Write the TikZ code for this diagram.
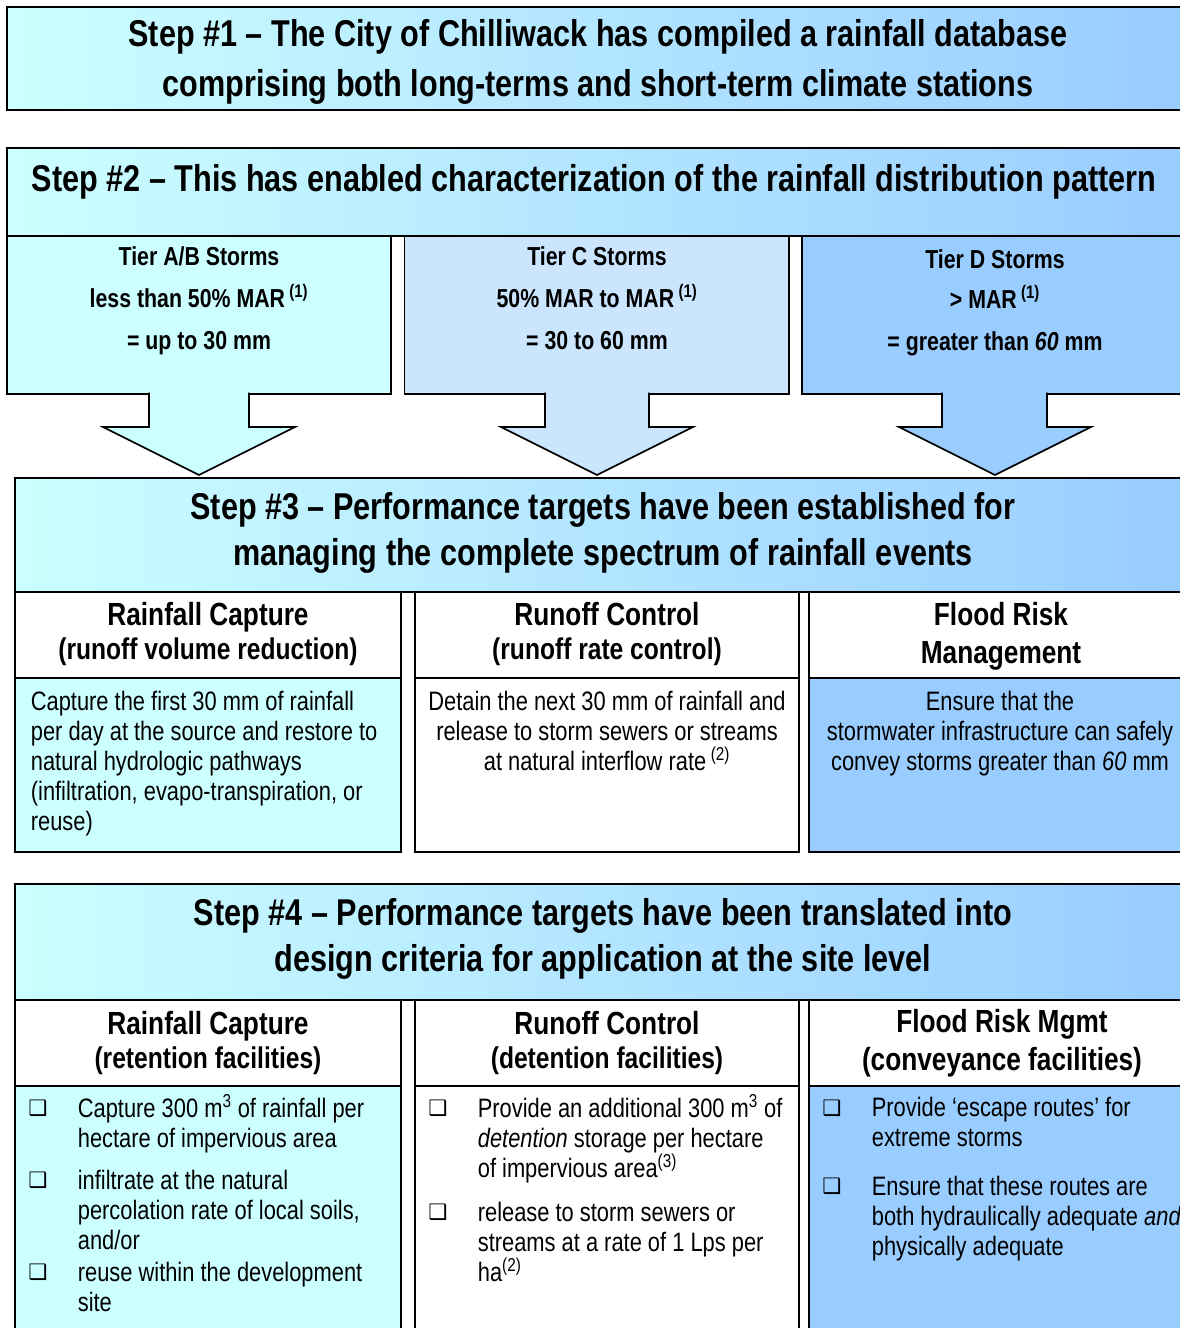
\documentclass[tikz,border=0pt]{standalone}
\usepackage{fontspec}
\setmainfont{Liberation Sans}[FakeStretch=0.82]
\newfontfamily\symfont{DejaVu Sans}
\usepackage{xcolor}
\definecolor{aqua}{RGB}{204,255,255}
\definecolor{paleblue}{RGB}{204,229,255}
\definecolor{skyblue}{RGB}{153,204,255}
\newcommand{\bul}{{\symfont\bfseries\fontsize{16}{16}\selectfont ❑}}
\newcommand{\mar}{\,\textsuperscript{(1)}}
\newcommand{\subhead}[1]{{\fontsize{22.5}{25}\selectfont #1}}

\begin{document}
\begin{tikzpicture}[
  x=0.75pt, y=-0.75pt,
  line width=1.3pt,
  line join=miter,
  stepbox/.style={draw, left color=aqua, right color=skyblue},
  steptext/.style={
    font=\bfseries\fontsize{28}{35}\selectfont,
    align=center
  },
  tiertext/.style={
    anchor=north,
    inner sep=0pt,
    font=\bfseries\fontsize{19.5}{31.5}\selectfont,
    align=center
  },
  headtext/.style={
    font=\bfseries\fontsize{24}{25}\selectfont,
    align=center
  },
  bodytext/.style={
    inner sep=0pt,
    font=\fontsize{20}{22.5}\selectfont,
    align=#1
  },
  bodytext/.default=left,
  bullet/.style={inner sep=0pt}
]
  \useasboundingbox (0,0) rectangle (1180,1328);

  % step 1
  \draw[stepbox] (7,7) rectangle (1190,110);
  \node[steptext, font=\bfseries\fontsize{28}{37.5}\selectfont] (step1) at (598,61.5)
    {Step \#1 -- The City of Chilliwack has compiled a rainfall database\\
     comprising both long-terms and short-term climate stations};

  % step 2
  \draw[stepbox] (7,148) rectangle (1190,236);
  \node[steptext] (step2) at (594,182)
    {Step \#2 -- This has enabled characterization of the rainfall distribution pattern};
  \draw[fill=aqua] (7,236) rectangle (391,394);
  \draw[fill=paleblue] (404.5,236) rectangle (789,394);
  \draw[fill=skyblue] (802,236) rectangle (1188,394);
  \node[tiertext] (tierab) at (199,246)
    {Tier A/B Storms\\ less than 50\% MAR\mar\\ = up to 30 mm};
  \node[tiertext] (tierc) at (597,246)
    {Tier C Storms\\ 50\% MAR to MAR\mar\\ = 30 to 60 mm};
  \node[tiertext] (tierd) at (995,249)
    {Tier D Storms\\[-1.5pt] > MAR\mar\\ = greater than \textit{60} mm};
  \filldraw[fill=aqua] (149,392.5) -- (149,427) -- (103,427) -- (199,475)
    -- (295,427) -- (249,427) -- (249,392.5);
  \filldraw[fill=paleblue] (545,392.5) -- (545,427) -- (501,427) -- (597,475)
    -- (693,427) -- (649,427) -- (649,392.5);
  \filldraw[fill=skyblue] (942,392.5) -- (942,427) -- (899,427) -- (995,475)
    -- (1091,427) -- (1047,427) -- (1047,392.5);

  % step 3
  \draw[stepbox] (15,478) rectangle (1190,592);
  \node[steptext] (step3) at (603,533)
    {Step \#3 -- Performance targets have been established for\\
     managing the complete spectrum of rainfall events};
  \draw[fill=white] (15,592) rectangle (401,678);
  \draw[fill=white] (415,592) rectangle (799,678);
  \draw[fill=white] (809,592) rectangle (1190,678);
  \draw[fill=aqua] (15,678) rectangle (401,852);
  \draw[fill=white] (415,678) rectangle (799,852);
  \draw[fill=skyblue] (809,678) rectangle (1190,852);
  \node[headtext] (capture) at (208,634)
    {Rainfall Capture\\\subhead{(runoff volume reduction)}};
  \node[headtext] (control) at (607,634)
    {Runoff Control\\\subhead{(runoff rate control)}};
  \node[headtext] (flood) at (1001,636)
    {Flood Risk\\[3.5pt]Management};
  \node[bodytext, anchor=north west] (capturetext) at (30,690)
    {Capture the first 30 mm of rainfall\\
     per day at the source and restore to\\
     natural hydrologic pathways\\
     (infiltration, evapo-transpiration, or\\
     reuse)};
  \node[bodytext=center, anchor=north] (controltext) at (607,690)
    {Detain the next 30 mm of rainfall and\\
     release to storm sewers or streams\\
     at natural interflow rate\,\textsuperscript{(2)}};
  \node[bodytext=center, anchor=north] (floodtext) at (1000,690)
    {Ensure that the\\
     stormwater infrastructure can safely\\
     convey storms greater than \textit{60} mm};

  % step 4
  \draw[stepbox] (15,884) rectangle (1190,1000);
  \node[steptext] (step4) at (603,939)
    {Step \#4 -- Performance targets have been translated into\\
     design criteria for application at the site level};
  \draw[fill=white] (15,1000) rectangle (401,1086);
  \draw[fill=white] (415,1000) rectangle (799,1086);
  \draw[fill=white] (809,1000) rectangle (1190,1086);
  \draw[fill=aqua] (15,1086) rectangle (401,1340);
  \draw[fill=white] (415,1086) rectangle (799,1340);
  \draw[fill=skyblue] (809,1086) rectangle (1190,1340);
  \node[headtext] (retention) at (208,1043)
    {Rainfall Capture\\\subhead{(retention facilities)}};
  \node[headtext] (detention) at (607,1043)
    {Runoff Control\\\subhead{(detention facilities)}};
  \node[headtext] (conveyance) at (1002,1043)
    {Flood Risk Mgmt\\[3.5pt](conveyance facilities)};

  \node[bullet] (b1) at (38,1108) {\bul};
  \node[bodytext, anchor=north west] (reta) at (77,1094)
    {Capture 300 m\textsuperscript{3} of rainfall per\\
     hectare of impervious area};
  \node[bullet] (b2) at (38,1180) {\bul};
  \node[bodytext, anchor=north west] (retb) at (77,1169)
    {infiltrate at the natural\\
     percolation rate of local soils,\\
     and/or};
  \node[bullet] (b3) at (38,1272) {\bul};
  \node[bodytext, anchor=north west] (retc) at (77,1261)
    {reuse within the development\\
     site};

  \node[bullet] (b4) at (438,1108) {\bul};
  \node[bodytext, anchor=north west] (deta) at (477,1094)
    {Provide an additional 300 m\textsuperscript{3} of\\
     \textit{detention} storage per hectare\\
     of impervious area\textsuperscript{(3)}};
  \node[bullet] (b5) at (438,1212) {\bul};
  \node[bodytext, anchor=north west] (detb) at (477,1201)
    {release to storm sewers or\\
     streams at a rate of 1 Lps per\\
     ha\textsuperscript{(2)}};

  \node[bullet] (b6) at (832,1108) {\bul};
  \node[bodytext, anchor=north west] (conva) at (871,1096)
    {Provide ‘escape routes’ for\\
     extreme storms};
  \node[bullet] (b7) at (832,1186) {\bul};
  \node[bodytext, anchor=north west] (convb) at (871,1175)
    {Ensure that these routes are\\
     both hydraulically adequate \textit{and}\\
     physically adequate};
\end{tikzpicture}
\end{document}
